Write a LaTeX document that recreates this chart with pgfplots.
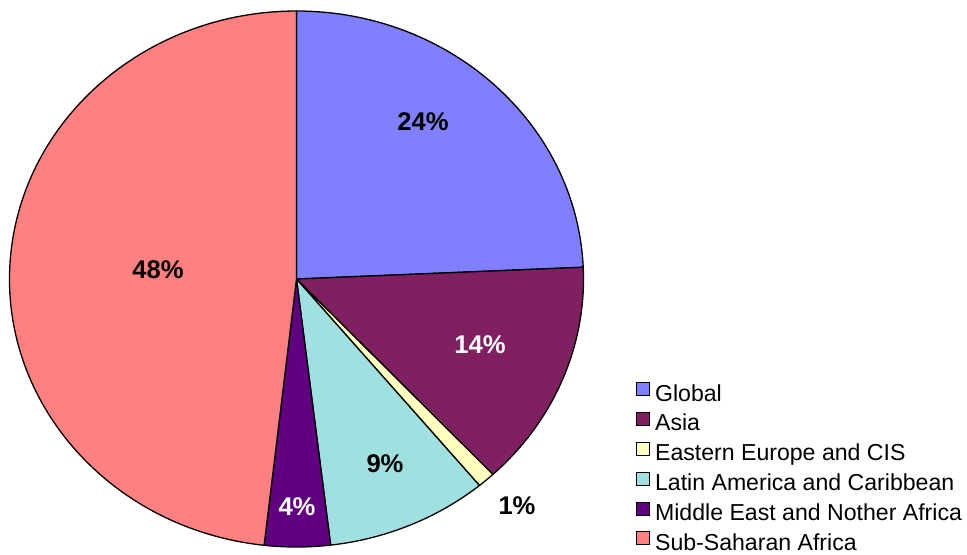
\documentclass[border=0pt]{standalone}
\usepackage{pgfplots}
\pgfplotsset{compat=1.18}
\usepackage{fontspec}
\setmainfont{Liberation Sans}

\definecolor{cGlobal}{HTML}{8080FF}
\definecolor{cAsia}{HTML}{802060}
\definecolor{cEast}{HTML}{FFFFC0}
\definecolor{cLatin}{HTML}{A0E0E0}
\definecolor{cMiddle}{HTML}{600080}
\definecolor{cSub}{HTML}{FF8080}

% one pie slice, from cumulative percent #1 to #2 (clockwise from 12 o'clock)
\newcommand\slice[3]{%
  \fill[#3, draw=black, line width=0.65pt, line join=round]
    (axis cs:296.5,279) -- ++({90-3.6*#1}:143.5pt and 134pt)
    arc[start angle={90-3.6*#1}, end angle={90-3.6*#2},
        x radius=143.5pt, y radius=134pt] -- cycle;}

\begin{document}
\begin{tikzpicture}
\begin{axis}[
    scale only axis,
    width=483.5pt, height=277pt,
    xmin=0, xmax=967, ymin=0, ymax=554,
    y dir=reverse,
    hide axis,
    clip=false,
    legend cell align=left,
    legend image code/.code={\draw[#1, line width=0.5pt] (0pt,-0.2pt) rectangle (6.5pt,6.3pt);},
    legend style={
        at={(axis cs:635.5,381.5)}, anchor=north west,
        draw=none, fill=none, inner sep=0pt,
        font=\fontsize{11.55}{13}\selectfont,
        nodes={inner sep=0pt, text height=8.5pt, text depth=2.5pt},
        row sep=2.9pt,
        /tikz/every odd column/.append style={column sep=2.6pt},
    },
]
\addplot[draw=none, forget plot] coordinates {(0,0) (967,554)};

% Global 24.3, Asia 13.7, Eastern Europe 1, Latin America 9.1, Middle East 3.7, Sub-Saharan 48.2
\slice{0}{24.3}{cGlobal}
\slice{24.3}{38}{cAsia}
\slice{38}{39}{cEast}
\slice{39}{48.1}{cLatin}
\slice{48.1}{51.8}{cMiddle}
\slice{51.8}{100}{cSub}

\addlegendimage{fill=cGlobal, draw=black}
\addlegendentry{Global}
\addlegendimage{fill=cAsia, draw=black}
\addlegendentry{Asia}
\addlegendimage{fill=cEast, draw=black}
\addlegendentry{Eastern Europe and CIS}
\addlegendimage{fill=cLatin, draw=black}
\addlegendentry{Latin America and Caribbean}
\addlegendimage{fill=cMiddle, draw=black}
\addlegendentry{Middle East and Nother Africa}
\addlegendimage{fill=cSub, draw=black}
\addlegendentry{Sub-Saharan Africa}

\begin{scope}[every node/.style={font=\fontsize{12.8}{14}\selectfont\bfseries}]
\node at (axis cs:423,122) {24\%};
\node[text=white] at (axis cs:480,345) {14\%};
\node at (axis cs:517,506) {1\%};
\node at (axis cs:385,464) {9\%};
\node[text=white] at (axis cs:297,507) {4\%};
\node at (axis cs:158,270) {48\%};
\end{scope}
\end{axis}
\pgfresetboundingbox
\path (current axis.south west) rectangle (current axis.north east);
\end{tikzpicture}
\end{document}
